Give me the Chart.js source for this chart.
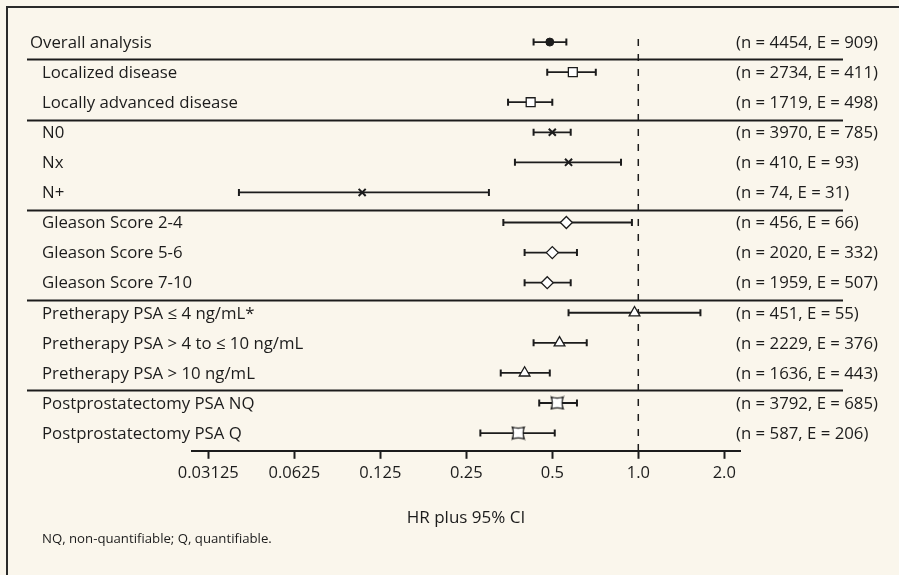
<!DOCTYPE html>
<html>
<head>
<meta charset="utf-8">
<script src="https://cdn.jsdelivr.net/npm/chart.js@4.4.1/dist/chart.umd.min.js"></script>
<style>
  html, body { margin: 0; padding: 0; background: #faf6ec; }
  #wrap { width: 899px; height: 575px; }
</style>
</head>
<body>
<div id="wrap"><canvas id="forest" width="899" height="575"></canvas></div>
<script>
const rowLabels = [
    "Overall analysis",
    "Localized disease",
    "Locally advanced disease",
    "N0",
    "Nx",
    "N+",
    "Gleason Score 2-4",
    "Gleason Score 5-6",
    "Gleason Score 7-10",
    "Pretherapy PSA \u2264 4 ng/mL*",
    "Pretherapy PSA > 4 to \u2264 10 ng/mL",
    "Pretherapy PSA > 10 ng/mL",
    "Postprostatectomy PSA NQ",
    "Postprostatectomy PSA Q"
];
const countLabels = [
    "(n = 4454, E = 909)",
    "(n = 2734, E = 411)",
    "(n = 1719, E = 498)",
    "(n = 3970, E = 785)",
    "(n = 410, E = 93)",
    "(n = 74, E = 31)",
    "(n = 456, E = 66)",
    "(n = 2020, E = 332)",
    "(n = 1959, E = 507)",
    "(n = 451, E = 55)",
    "(n = 2229, E = 376)",
    "(n = 1636, E = 443)",
    "(n = 3792, E = 685)",
    "(n = 587, E = 206)"
];
const hr     = [0.49, 0.59, 0.42, 0.50, 0.57, 0.108, 0.56, 0.50, 0.48, 0.97, 0.53, 0.40, 0.52, 0.38];
const ciLow  = [0.43, 0.48, 0.35, 0.43, 0.37, 0.040, 0.337, 0.40, 0.40, 0.57, 0.43, 0.33, 0.45, 0.28];
const ciHigh = [0.56, 0.71, 0.50, 0.58, 0.87, 0.30, 0.95, 0.61, 0.58, 1.65, 0.66, 0.49, 0.61, 0.51];

// rows that share a marker
const overallRows = [0];
const stageRows = [1, 2];
const nodeRows = [3, 4, 5];
const gleasonRows = [6, 7, 8];
const psaRows = [9, 10, 11];
const postRows = [12, 13];

const separatorAfter = [0, 2, 5, 8, 11];
const tickValues = [0.03125, 0.0625, 0.125, 0.25, 0.5, 1, 2];
const tickLabels = ["0.03125", "0.0625", "0.125", "0.25", "0.5", "1.0", "2.0"];
const refLine = 1;

const FONT = "'Open Sans', Lato, sans-serif";
const INK = "#1c1c1c";

// concave square marker for the postprostatectomy rows
function starMarker() {
    const c = document.createElement("canvas");
    c.width = 15; c.height = 15;
    const g = c.getContext("2d");
    const a = 1.5, b = 13.5, m = 7.5, d = 2.2;
    g.beginPath();
    g.moveTo(a, a);
    g.quadraticCurveTo(m, a + d, b, a);
    g.quadraticCurveTo(b - d, m, b, b);
    g.quadraticCurveTo(m, b - d, a, b);
    g.quadraticCurveTo(a + d, m, a, a);
    g.closePath();
    g.fillStyle = "#ffffff";
    g.fill();
    g.lineWidth = 1.3;
    g.strokeStyle = INK;
    g.stroke();
    return c;
}

function pts(rows) {
    return rows.map(i => ({ x: hr[i], y: i }));
}

function markerSet(rows, style, radius, fill, width) {
    return {
        type: "scatter",
        data: pts(rows),
        pointStyle: style,
        pointRadius: radius,
        backgroundColor: fill,
        borderColor: INK,
        borderWidth: width,
        order: 0
    };
}

const datasets = [];

// confidence interval whiskers
rowLabels.forEach((_, i) => {
    datasets.push({
        type: "scatter",
        showLine: true,
        data: [{ x: ciLow[i], y: i }, { x: ciHigh[i], y: i }],
        borderColor: INK,
        borderWidth: 1.8,
        pointStyle: "line",
        pointRotation: 90,
        pointRadius: 3.5,
        pointBorderColor: INK,
        pointBorderWidth: 2,
        order: 2
    });
});

// reference line at HR = 1
datasets.push({
    type: "scatter",
    showLine: true,
    data: [{ x: refLine, y: -0.1 }, { x: refLine, y: 13.6 }],
    borderColor: INK,
    borderWidth: 1.5,
    borderDash: [7, 8],
    pointRadius: 0,
    order: 3
});

datasets.push(markerSet(overallRows, "circle", 4, INK, 1));
datasets.push(markerSet(stageRows, "rect", 6.3, "#ffffff", 1.3));
datasets.push(markerSet(nodeRows, "crossRot", 5, INK, 2));
datasets.push(markerSet(gleasonRows, "rectRot", 6, "#ffffff", 1.3));
datasets.push(markerSet(psaRows, "triangle", 6.2, "#ffffff", 1.3));
datasets.push(markerSet(postRows, starMarker(), 7, "#ffffff", 1.3));

const decor = {
    id: "decor",
    beforeDraw(chart) {
        const ctx = chart.ctx;
        ctx.save();
        ctx.fillStyle = "#faf6ec";
        ctx.fillRect(0, 0, chart.width, chart.height);
        // frame on top and left
        ctx.strokeStyle = "#2a2a2a";
        ctx.lineWidth = 2;
        ctx.beginPath();
        ctx.moveTo(7, chart.height);
        ctx.lineTo(7, 7);
        ctx.lineTo(chart.width, 7);
        ctx.stroke();
        ctx.restore();
    },
    beforeDatasetsDraw(chart) {
        const ctx = chart.ctx;
        const y = chart.scales.y;
        ctx.save();
        ctx.strokeStyle = INK;
        ctx.lineWidth = 1.8;
        separatorAfter.forEach(i => {
            const py = Math.round(y.getPixelForValue(i + 0.58)) + 0.5;
            ctx.beginPath();
            ctx.moveTo(27, py);
            ctx.lineTo(843, py);
            ctx.stroke();
        });
        ctx.restore();
    },
    afterDraw(chart) {
        const ctx = chart.ctx;
        const y = chart.scales.y;
        ctx.save();
        ctx.fillStyle = INK;
        ctx.font = "16.8px " + FONT;
        ctx.textBaseline = "middle";
        ctx.textAlign = "left";
        rowLabels.forEach((t, i) => {
            const py = y.getPixelForValue(i) + 1;
            ctx.fillText(t, i === 0 ? 30 : 42, py);
            ctx.fillText(countLabels[i], 736, py);
        });
        ctx.font = "13.2px " + FONT;
        ctx.fillText("NQ, non-quantifiable; Q, quantifiable.", 42, 539);
        ctx.restore();
    }
};

new Chart(document.getElementById("forest"), {
    type: "scatter",
    data: { datasets: datasets },
    options: {
        responsive: false,
        animation: false,
        events: [],
        layout: { padding: { left: 192, right: 159, top: 21, bottom: 47 } },
        plugins: { legend: { display: false }, tooltip: { enabled: false } },
        scales: {
            x: {
                type: "logarithmic",
                min: 0.0274,
                max: 2.27,
                afterBuildTicks(scale) {
                    scale.ticks = tickValues.map(v => ({ value: v }));
                },
                ticks: {
                    autoSkip: false,
                    maxRotation: 0,
                    padding: 5,
                    color: INK,
                    font: { family: FONT, size: 16.5 },
                    callback(value) {
                        const k = tickValues.indexOf(value);
                        return k >= 0 ? tickLabels[k] : "";
                    }
                },
                grid: {
                    drawOnChartArea: false,
                    drawTicks: true,
                    tickLength: 8,
                    tickColor: INK,
                    tickWidth: 2
                },
                border: { display: true, color: INK, width: 2 },
                title: {
                    display: true,
                    text: "HR plus 95% CI",
                    color: INK,
                    font: { family: FONT, size: 17 },
                    padding: { top: 19, bottom: 0 }
                }
            },
            y: {
                display: false,
                min: -0.7,
                max: 13.59,
                reverse: true
            }
        }
    },
    plugins: [decor]
});
</script>
</body>
</html>
